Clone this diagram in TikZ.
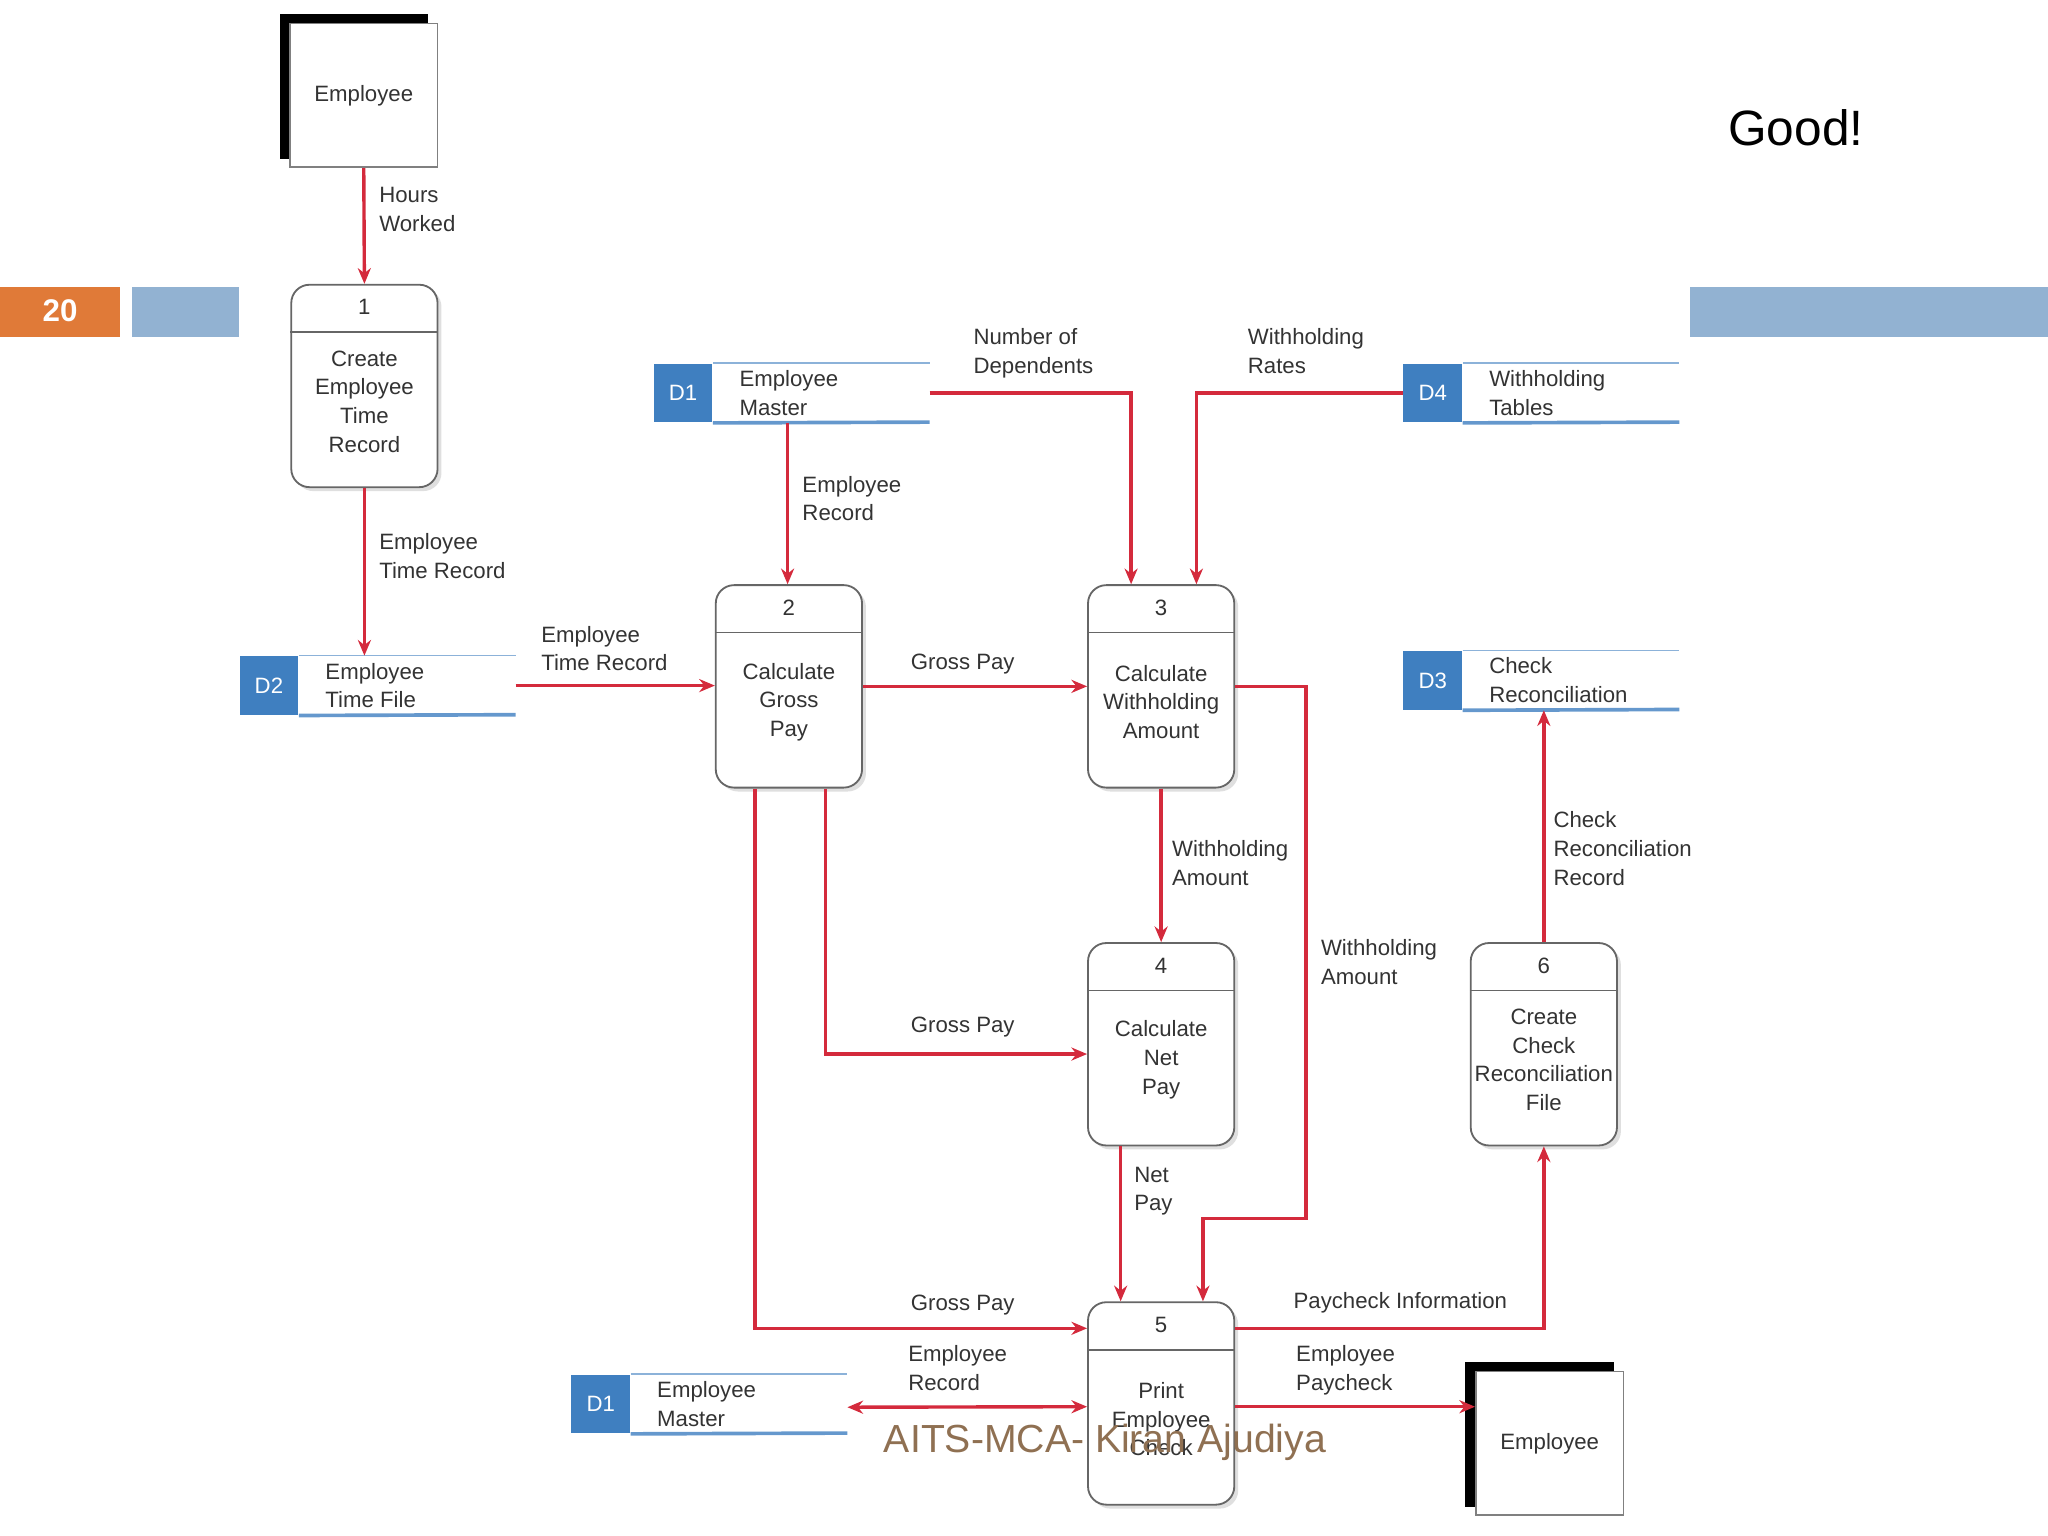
\documentclass[tikz,border=0pt]{standalone}
\usepackage{fontspec}
\setmainfont{Liberation Sans}
\usetikzlibrary{arrows.meta,calc,shadows}
\definecolor{dred}{HTML}{D42A3C}
\definecolor{dblue}{HTML}{3F7FC0}
\definecolor{bar}{HTML}{92B2D2}
\definecolor{org}{HTML}{E07A38}
\definecolor{txt}{HTML}{333333}
\tikzset{
 arr/.style={draw=dred,line width=1.3pt,-{Stealth[length=6pt,width=5pt]}},
 proc/.style={draw=gray!80!black,fill=white,rounded corners=7pt,line width=0.7pt,minimum width=56pt,minimum height=77.5pt,drop shadow={shadow xshift=1.5pt,shadow yshift=-1.5pt,fill=gray!50}},
 lbl/.style={anchor=north west,align=left,inner sep=0pt,text=txt,font=\fontsize{8.5}{11}\selectfont},
 ptxt/.style={align=center,inner sep=0pt,text=txt,font=\fontsize{8.5}{11}\selectfont},
 ent/.style={draw=gray,fill=white,line width=0.7pt,minimum width=56.5pt,minimum height=55pt,inner sep=0pt,text=txt,font=\fontsize{8.5}{11}\selectfont},
}
\newcommand{\proc}[5]{%
 \node[proc] (#1) at (#2,#3) {};
 \draw[gray!80!black,line width=0.7pt] ([yshift=-18.5pt]#1.north west) -- ([yshift=-18.5pt]#1.north east);
 \node[ptxt] (#1n) at ([yshift=-9pt]#1.north) {#4};
 \node[ptxt] (#1t) at ([yshift=-6pt]#1.center) {#5};}
\newcommand{\store}[5]{%
 \node[minimum width=105.5pt,minimum height=22.5pt,inner sep=0pt,anchor=north west] (#1) at (#2,#3) {};
 \node[fill=dblue,minimum width=22.5pt,minimum height=22.5pt,inner sep=0pt,anchor=north west,text=white,font=\fontsize{8.5}{11}\selectfont] (#1id) at (#1.north west) {#4};
 \draw[dblue!60,line width=0.6pt] (#1id.north east) -- (#1.north east);
 \draw[dblue!80,line width=1.4pt] (#1id.south east) -- ([yshift=0.3pt]#1.south east);
 \node[lbl,anchor=west] (#1t) at ([xshift=10pt]#1id.east) {#5};}
\begin{document}
\begin{tikzpicture}[x=0.5pt,y=-0.5pt]
\useasboundingbox (0,0) rectangle (1568,1176);
\fill[org] (0,220) rectangle (92,258);
\node[text=white,font=\bfseries\fontsize{12}{14}\selectfont] (pg) at (46,238) {20};
\fill[bar] (101,220) rectangle (183,258);
\fill[bar] (1294,220) rectangle (1568,258);
\node[font=\fontsize{19}{22}\selectfont] (good) at (1375,98) {Good!};
\fill[black] (214,11) rectangle (328,122);
\node[ent] (e1) at (278.5,73) {Employee};
\fill[black] (1122,1043) rectangle (1236,1154);
\node[ent] (e2) at (1186.5,1105) {Employee};
\proc{p1}{279}{295.5}{1}{Create\\Employee\\Time\\Record}
\proc{p2}{604}{525.5}{2}{Calculate\\Gross\\Pay}
\proc{p3}{889}{525.5}{3}{Calculate\\Withholding\\Amount}
\proc{p4}{889}{799.5}{4}{Calculate\\Net\\Pay}
\proc{p6}{1182}{799.5}{6}{Create\\Check\\Reconciliation\\File}
\proc{p5}{889}{1074.5}{5}{Print\\Employee\\Check}
\store{d1}{500}{278}{D1}{Employee\\Master}
\store{d4}{1074}{278}{D4}{Withholding\\Tables}
\store{d2}{183}{502}{D2}{Employee\\Time File}
\store{d3}{1074}{498}{D3}{Check\\Reconciliation}
\store{d1b}{437}{1052}{D1}{Employee\\Master}
\draw[arr] (e1.south) -- (p1.north);
\node[lbl] (l1) at (290,143) {Hours\\Worked};
\draw[arr] (p1.south) -- (p1.south |- d2.north);
\node[lbl] (l2) at (290,408) {Employee\\Time Record};
\draw[arr] (d2.east) -- (p2.west |- d2.east);
\node[lbl] (l3) at (414,479) {Employee\\Time Record};
\draw[arr] ([xshift=51.5pt]d1.south west) -- ([xshift=51.5pt]d1.south west |- p2.north);
\node[lbl] (l4) at (614,364) {Employee\\Record};
\draw[arr] (d1.east) -| ([xshift=-11.5pt]p3.north);
\node[lbl] (l5) at (745,251) {Number of\\Dependents};
\draw[arr] (d4.west) -| ([xshift=13.5pt]p3.north);
\node[lbl] (l6) at (955,251) {Withholding\\Rates};
\draw[arr] (p2.east) -- (p3.west);
\node[lbl] (l7) at (697,500) {Gross Pay};
\draw[arr] (p3.south) -- (p4.north);
\node[lbl] (l8) at (897,643) {Withholding\\Amount};
\coordinate (w1) at (1000,933);
\draw[arr] (p3.east) -| (w1) -| ([xshift=16pt]p5.north);
\node[lbl] (l9) at (1011,719) {Withholding\\Amount};
\draw[arr] ([xshift=14pt]p2.south) |- ([yshift=-3.75pt]p4.west);
\node[lbl] (l10) at (697,778) {Gross Pay};
\draw[arr] ([xshift=-13pt]p2.south) |- ([yshift=28.75pt]p5.west);
\node[lbl] (l11) at (697,991) {Gross Pay};
\draw[arr] ([xshift=-15.5pt]p4.south) -- ([xshift=-15.5pt]p5.north);
\node[lbl] (l12) at (868,893) {Net\\Pay};
\draw[arr,{Stealth[length=6pt,width=5pt]}-{Stealth[length=6pt,width=5pt]}] ([yshift=-1.25pt]d1b.east) -- ([yshift=-1.25pt]p5.west);
\node[lbl] (l13) at (695,1030) {Employee\\Record};
\coordinate (p5r) at ([yshift=-1.25pt]p5.east);
\draw[arr] (p5r) -- (e2.west |- p5r);
\node[lbl] (l14) at (992,1030) {Employee\\Paycheck};
\draw[arr] ([yshift=28.75pt]p5.east) -| (p6.south);
\node[lbl] (l15) at (990,989) {Paycheck Information};
\draw[arr] (p6.north) -- ([xshift=54pt]d3.south west);
\node[lbl] (l16) at (1189,621) {Check\\Reconciliation\\Record};
\node[text=brown!60!black!80,font=\fontsize{15}{18}\selectfont] (foot) at (846,1104) {AITS-MCA- Kiran Ajudiya};
\end{tikzpicture}
\end{document}
